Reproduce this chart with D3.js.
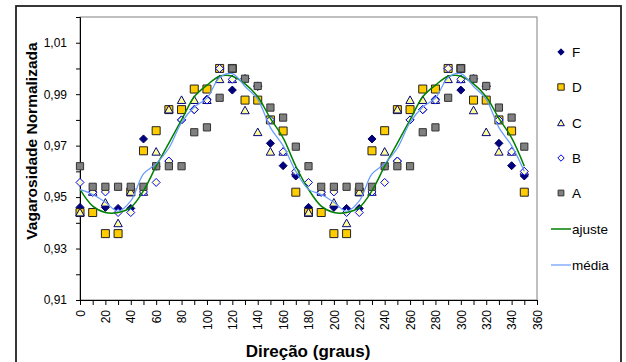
<!DOCTYPE html>
<html>
<head>
<meta charset="utf-8">
<script src="https://cdn.jsdelivr.net/npm/d3@7"></script>
<style>
  body{margin:0;background:#fff;}
  svg{display:block;font-family:"Liberation Sans",Arial,sans-serif;}
</style>
</head>
<body>
<svg id="chart" width="626" height="362"></svg>
<script>
// direction in degrees
const angles=[0,10,20,30,40,50,60,70,80,90,100,110,120,130,140,150,160,170,
  180,190,200,210,220,230,240,250,260,270,280,290,300,310,320,330,340,350];

const serF=[0.946,0.952,0.946,0.9456,0.9456,0.9726,0.962,0.964,0.980,0.984,0.988,1.000,0.9916,0.996,0.993,0.9709,0.9622,0.9582,
  0.946,0.952,0.946,0.9456,0.9456,0.9726,0.962,0.964,0.980,0.984,0.988,1.000,0.9916,0.996,0.993,0.9709,0.9622,0.9582];
const serD=[0.944,0.944,0.9358,0.9358,0.952,0.968,0.9758,0.984,0.984,0.992,0.992,1.000,1.000,0.9877,0.9877,0.980,0.9757,0.9519,
  0.944,0.944,0.9358,0.9358,0.952,0.968,0.9758,0.984,0.984,0.992,0.992,1.000,1.000,0.9877,0.9877,0.980,0.9757,0.9519];
const serC=[0.944,0.952,0.9478,0.9398,0.952,0.952,0.9676,0.984,0.9877,0.9877,0.9877,0.9958,0.9958,0.9837,0.9752,0.9676,0.9676,0.960,
  0.944,0.952,0.9478,0.9398,0.952,0.952,0.9676,0.984,0.9877,0.9877,0.9877,0.9958,0.9958,0.9837,0.9752,0.9676,0.9676,0.960];
const serB=[0.9557,0.9518,0.952,0.944,0.944,0.952,0.9557,0.964,0.980,0.984,0.9877,1.000,0.9958,0.996,0.9932,0.980,0.9676,0.960,
  0.9557,0.9518,0.952,0.944,0.944,0.952,0.9557,0.964,0.980,0.984,0.9877,1.000,0.9958,0.996,0.9932,0.980,0.9676,0.960];
const serA=[0.962,0.954,0.954,0.954,0.954,0.954,0.962,0.962,0.962,0.9752,0.9771,0.9886,1.000,0.996,0.9932,0.9848,0.9809,0.9696,
  0.962,0.954,0.954,0.954,0.954,0.954,0.962,0.962,0.962,0.9752,0.9771,0.9886,1.000,0.996,0.9932,0.9848,0.9809,0.9696];
const ajuste=[0.953,0.9465,0.944,0.944,0.946,0.9525,0.962,0.971,0.980,0.989,0.9935,0.997,0.997,0.994,0.989,0.9806,0.973,0.962,
  0.953,0.9465,0.944,0.944,0.946,0.9525,0.962,0.971,0.980,0.989,0.9935,0.997,0.997,0.994,0.989,0.9806,0.973,0.962];
const media=[0.953,0.951,0.948,0.9445,0.9485,0.959,0.963,0.969,0.979,0.985,0.9885,0.9965,0.998,0.993,0.988,0.977,0.970,0.960,
  0.953,0.951,0.948,0.9445,0.9485,0.959,0.963,0.969,0.979,0.985,0.9885,0.9965,0.998,0.993,0.988,0.977,0.970,0.960];

const xTicks=[0,10,20,30,40,50,60,70,80,90,100,110,120,130,140,150,160,170,180,190,200,210,220,230,240,250,260,270,280,290,300,310,320,330,340,350,360];
const yTicks=[0.91,0.92,0.93,0.94,0.95,0.96,0.97,0.98,0.99,1.00,1.01];

const svg=d3.select('#chart');
const plotL=80,plotR=537,plotT=17,plotB=300;

const xScale=d3.scaleLinear().domain([0,360]).range([plotL,plotR]);
const yScale=d3.scaleLinear().domain([0.91,1.02]).range([plotB,plotT]);
const fmt=d3.formatLocale({decimal:',',thousands:'.',grouping:[3],currency:['','']}).format('.2f');

// outer frame
svg.append('rect').attr('x',16).attr('y',6).attr('width',605).attr('height',362)
  .attr('fill','#fff').attr('stroke','#222').attr('stroke-width',1.8);
// plot area
svg.append('rect').attr('x',plotL).attr('y',plotT).attr('width',plotR-plotL).attr('height',plotB-plotT)
  .attr('fill','none').attr('stroke','#808080').attr('stroke-width',1);

// axes
let yAxis=d3.axisLeft(yScale).tickValues(yTicks).tickSize(4).tickPadding(9)
  .tickFormat((d,i)=>i%2==0?fmt(d):'');
let gy=svg.append('g').attr('transform','translate('+plotL+',0)').call(yAxis);
gy.select('.domain').attr('stroke','#000');
gy.selectAll('text').attr('font-size',12).attr('fill','#000')
  .attr('font-family','"Liberation Sans",Arial,sans-serif');

let xAxis=d3.axisBottom(xScale).tickValues(xTicks).tickSize(5)
  .tickFormat((d,i)=>i%2==0?d:'');
let gx=svg.append('g').attr('transform','translate(0,'+plotB+')').call(xAxis);
gx.select('.domain').attr('stroke','#000');
gx.selectAll('text').attr('font-size',12).attr('fill','#000')
  .attr('font-family','"Liberation Sans",Arial,sans-serif')
  .attr('text-anchor','end').attr('dy','0.35em')
  .attr('transform','translate(0,10) rotate(-90)').attr('y',0).attr('x',0);

// titles
svg.append('text').attr('transform','translate(37,141) rotate(-90)')
  .attr('text-anchor','middle').attr('font-size',15.5).attr('font-weight','bold')
  .text('Vagarosidade Normalizada');
svg.append('text').attr('x',308).attr('y',357)
  .attr('text-anchor','middle').attr('font-size',17).attr('font-weight','bold')
  .text('Direção (graus)');

// marker shapes
const shapes={
  diamond:s=>`M0,${-s}L${s},0L0,${s}L${-s},0Z`,
  square:s=>`M${-s},${-s}H${s}V${s}H${-s}Z`,
  triangle:s=>`M0,${-s}L${s},${s*0.8}H${-s}Z`
};

const series=[
  {name:'F',vals:serF,shape:'diamond',size:4,fill:'#000080',stroke:'#000060'},
  {name:'D',vals:serD,shape:'square',size:4,fill:'#ffcc00',stroke:'#222'},
  {name:'C',vals:serC,shape:'triangle',size:4.2,fill:'#ffff99',stroke:'#000080'},
  {name:'B',vals:serB,shape:'diamond',size:4,fill:'#ffffcc',stroke:'#0000ff'},
  {name:'A',vals:serA,shape:'square',size:3.6,fill:'#808080',stroke:'#333'}
];

series.forEach(s=>{
  svg.append('g').selectAll('path')
    .data(s.vals)
    .enter()
    .append('path')
    .attr('d',shapes[s.shape](s.size))
    .attr('transform',(d,i)=>'translate('+xScale(angles[i])+','+yScale(d)+')')
    .attr('fill',s.fill).attr('stroke',s.stroke).attr('stroke-width',1);
});

const lines=[
  {name:'ajuste',vals:ajuste,color:'#008000',w:1.5},
  {name:'média',vals:media,color:'#6699ff',w:1.2}
];
lines.forEach(l=>{
  let gen=d3.line().x((d,i)=>xScale(angles[i])).y(d=>yScale(d)).curve(d3.curveCatmullRom);
  svg.append('path').datum(l.vals).attr('d',gen)
    .attr('fill','none').attr('stroke',l.color).attr('stroke-width',l.w);
});

// legend
const legY=[52,87,123,158,193,229,265];
series.forEach((s,i)=>{
  svg.append('path').attr('d',shapes[s.shape](s.size*0.8))
    .attr('transform','translate(561,'+legY[i]+')')
    .attr('fill',s.fill).attr('stroke',s.stroke).attr('stroke-width',1);
  svg.append('text').attr('x',572).attr('y',legY[i]+5).attr('font-size',13.5).text(s.name);
});
lines.forEach((l,i)=>{
  let y=legY[5+i];
  svg.append('line').attr('x1',551).attr('x2',571).attr('y1',y).attr('y2',y)
    .attr('stroke',l.color).attr('stroke-width',l.w);
  svg.append('text').attr('x',572).attr('y',y+5).attr('font-size',13.5).text(l.name);
});
</script>
</body>
</html>
